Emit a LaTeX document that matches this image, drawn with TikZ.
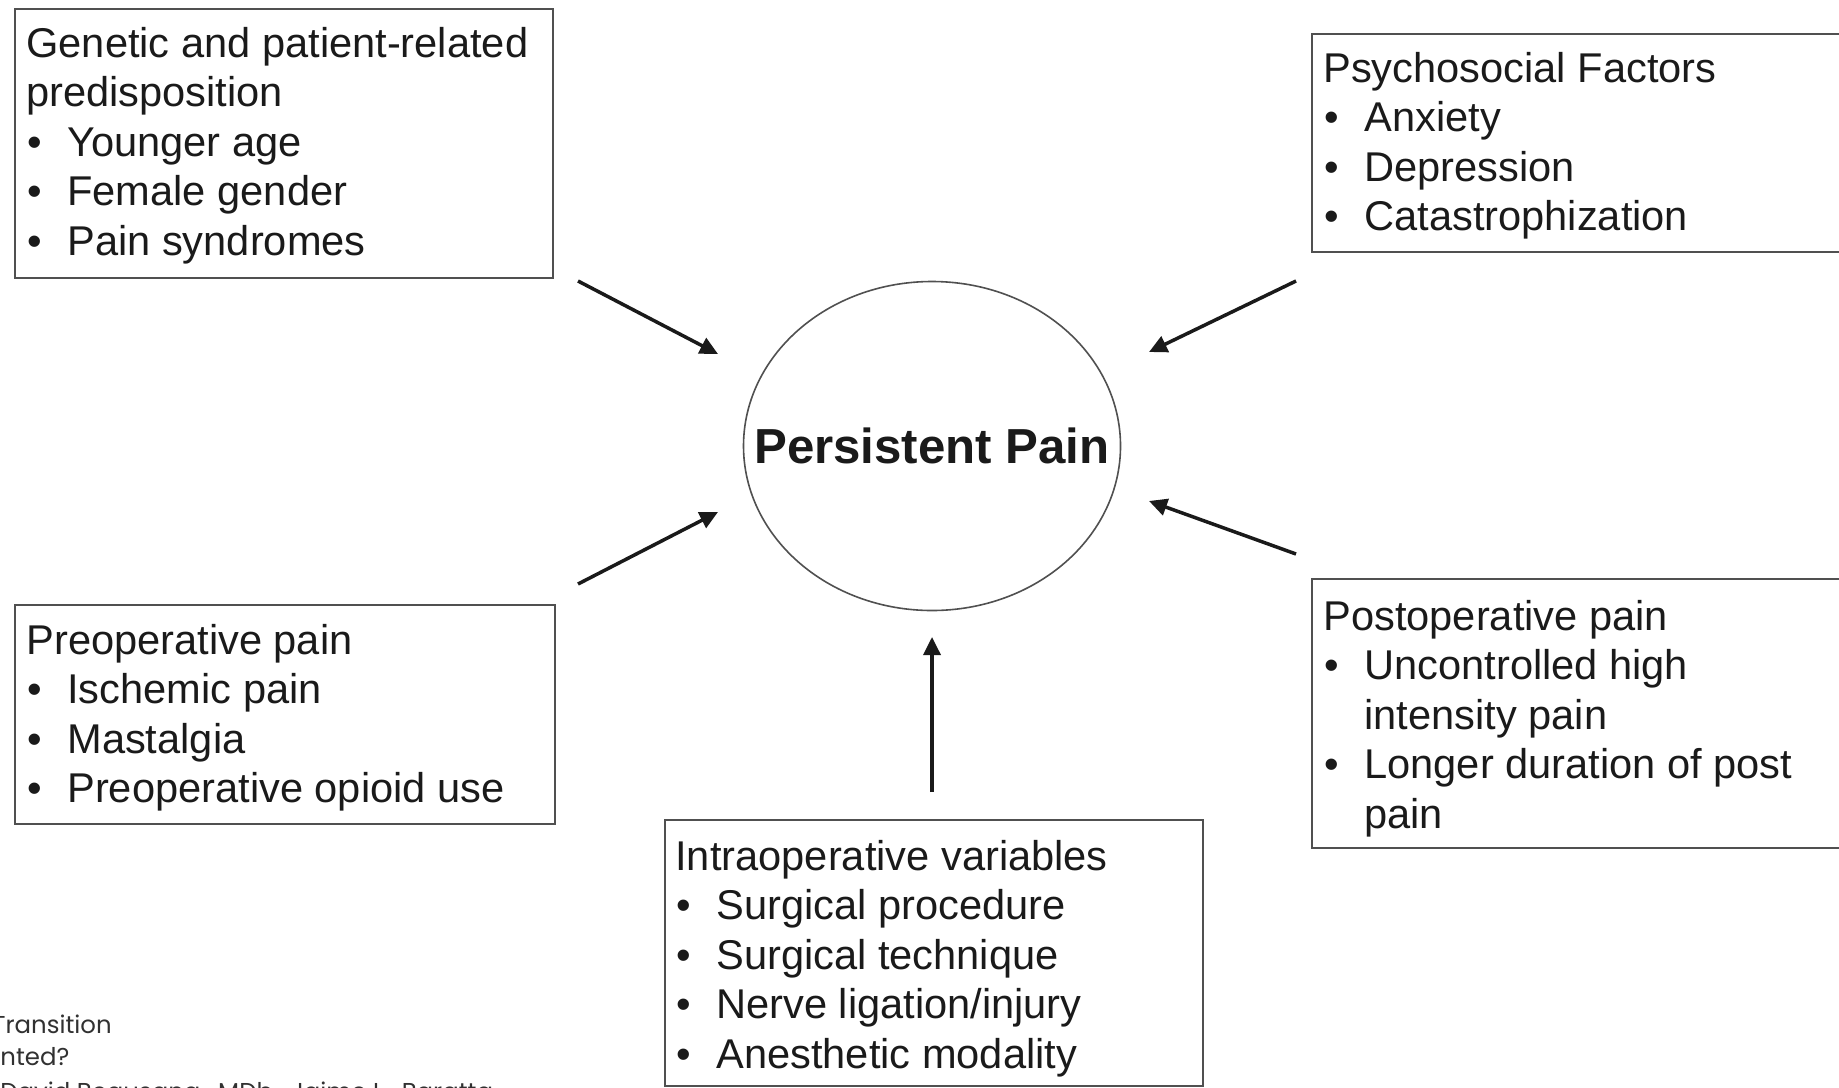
\documentclass[tikz,border=0pt]{standalone}
\usepackage{fontspec}
\setmainfont{Liberation Sans}
\newfontfamily\gothic{Poppins}
\usetikzlibrary{arrows.meta,shapes.geometric}
\definecolor{ink}{HTML}{1A1A1A}
\definecolor{edge}{HTML}{505050}
\newcommand\bitem[1]{\par\noindent\hangindent=20.5pt\hangafter=1\makebox[20.5pt][l]{\hspace{0.5pt}\textbullet}#1}
\newcommand\boxtext[2]{\parbox[t]{#1}{\fontsize{20.8pt}{24.8pt}\selectfont #2}}
\newcommand\panel[5]{\node[panel, minimum width={(#4-#2)*0.5pt}, minimum height={(#5-#3)*0.5pt}] (#1) at (#2,#3) {};}
\tikzset{
  panel/.style={draw=edge, line width=1.1pt, anchor=north west, inner sep=0pt, fill=white},
  btext/.style={anchor=base west, inner sep=0pt, text=ink},
  arr/.style={draw=ink, line width=1.75pt, -{Triangle[length=9pt,width=8.5pt]}},
}
\begin{document}
\begin{tikzpicture}[x=0.5pt,y=-0.5pt]
\useasboundingbox (0,0) rectangle (1839,1087);
\fill[white] (0,0) rectangle (1839,1087);
\begin{scope}
\clip (0,0) rectangle (1839,1087);
% boxes
\panel{b1}{14}{8}{552}{277}
\panel{b2}{1311}{33}{1860}{251}
\panel{b3}{14}{604}{554}{823}
\panel{b4}{1311}{578}{1860}{847}
\panel{b5}{664}{819}{1202}{1085}
% texts
\node[btext] (t1) at (26,57) {\boxtext{500pt}{\noindent Genetic and patient-related\\predisposition
\bitem{Younger age}\bitem{Female gender}\bitem{Pain syndromes}}};
\node[btext] (t2) at (1323,82) {\boxtext{500pt}{\noindent Psychosocial Factors
\bitem{Anxiety}\bitem{Depression}\bitem{Catastrophization}}};
\node[btext] (t3) at (26,654) {\boxtext{500pt}{\noindent Preoperative pain
\bitem{Ischemic pain}\bitem{Mastalgia}\bitem{Preoperative opioid use}}};
\node[btext] (t4) at (1323,630) {\boxtext{500pt}{\noindent Postoperative pain
\bitem{Uncontrolled high\\intensity pain}\bitem{Longer duration of post\\pain}}};
\node[btext] (t5) at (675,870) {\boxtext{500pt}{\noindent Intraoperative variables
\bitem{Surgical procedure}\bitem{Surgical technique}\bitem{Nerve ligation/injury}\bitem{Anesthetic modality}}};
% centre
\node[ellipse, draw=edge, line width=0.8pt, minimum width=188.5pt, minimum height=164.5pt, inner sep=0pt] (pp) at (932,446) {};
\node[font=\bfseries\fontsize{24.6pt}{28pt}\selectfont, text=ink, inner sep=0pt] (pptext) at (932,446) {Persistent Pain};
% arrows
\coordinate (a1s) at (578,281); \coordinate (a1e) at (718,354);
\coordinate (a2s) at (1296,281); \coordinate (a2e) at (1149,352);
\coordinate (a3s) at (578,584); \coordinate (a3e) at (718,512);
\coordinate (a4s) at (1296,554); \coordinate (a4e) at (1149,501);
\coordinate (a5s) at (932,792); \coordinate (a5e) at (932,637);
\draw[arr] (a1s) -- (a1e);
\draw[arr] (a2s) -- (a2e);
\draw[arr] (a3s) -- (a3e);
\draw[arr] (a4s) -- (a4e);
\draw[arr] (a5s) -- (a5e);
% overlay text at bottom left
\node[anchor=base west, inner sep=0pt, font=\gothic\fontsize{12.2pt}{15pt}\selectfont, text=ink!90] (ov1) at (-8,1033) {Transition};
\node[anchor=base west, inner sep=0pt, font=\gothic\fontsize{12.2pt}{15pt}\selectfont, text=ink!90] (ov2) at (0,1065) {nted?};
\node[anchor=base west, inner sep=0pt, font=\gothic\fontsize{12.2pt}{15pt}\selectfont, text=ink!90] (ov3) at (0,1100) {David Beausang,\ \ MDb,\ \ Jaime L.\ \ Baratta};
\end{scope}
\end{tikzpicture}
\end{document}
